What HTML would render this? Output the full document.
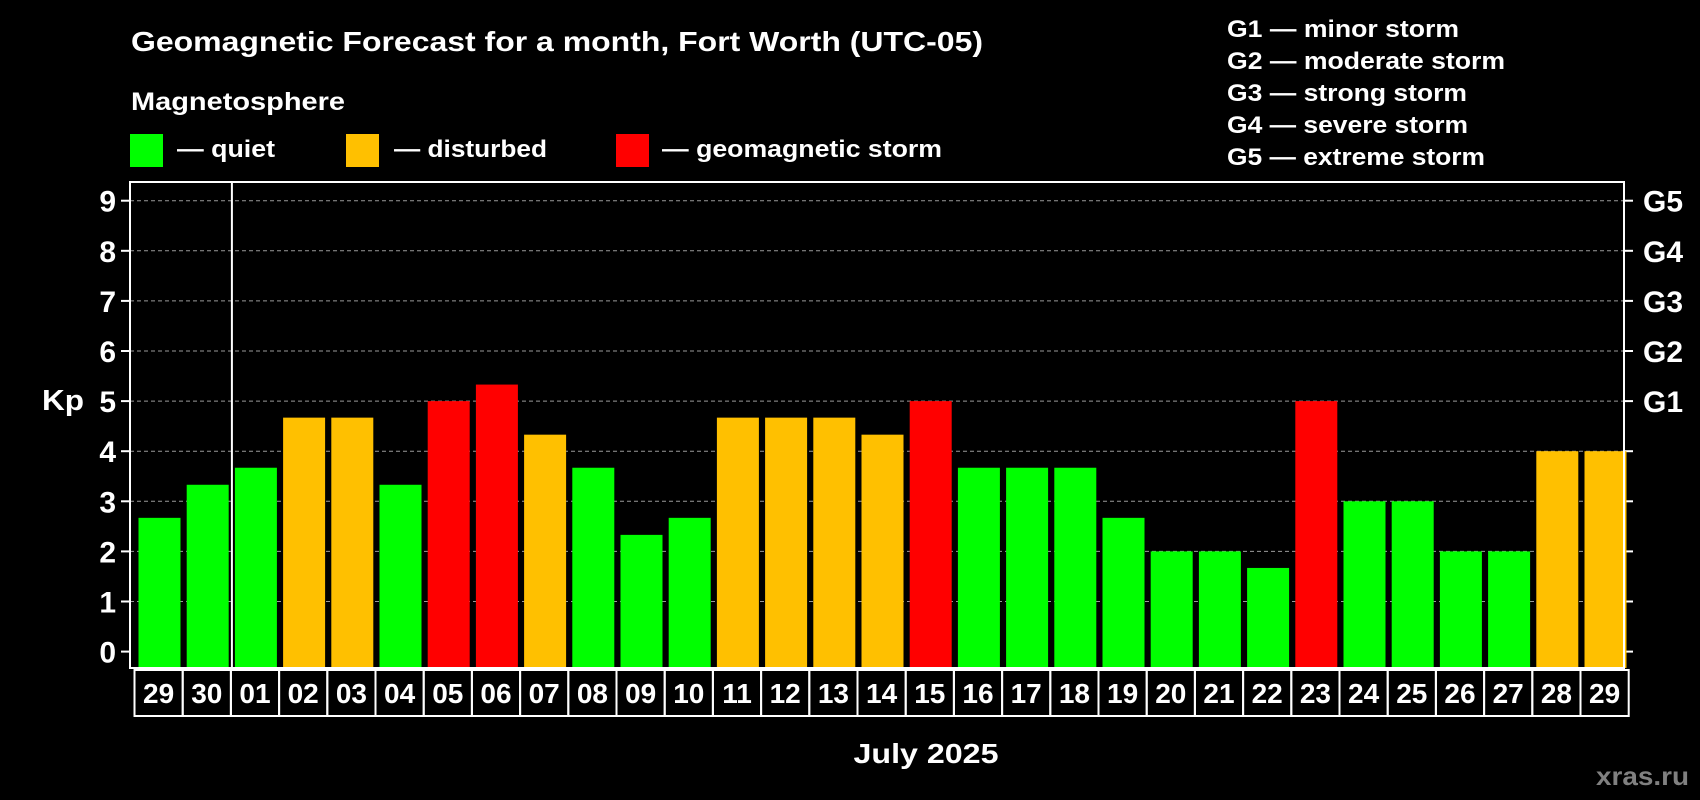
<!DOCTYPE html>
<html><head><meta charset="utf-8"><style>
html,body{margin:0;padding:0;background:#000;}
svg{display:block;font-family:"Liberation Sans",Arial,sans-serif;font-weight:bold;}
</style></head><body>
<svg id="chart" width="1700" height="800" viewBox="0 0 1700 800" xmlns="http://www.w3.org/2000/svg">
<rect x="0" y="0" width="1700" height="800" fill="#000"/>
<text x="131" y="51" font-size="28" fill="#fff" textLength="852" lengthAdjust="spacingAndGlyphs">Geomagnetic Forecast for a month, Fort Worth (UTC-05)</text>
<text x="131" y="110" font-size="25" fill="#fff" textLength="214" lengthAdjust="spacingAndGlyphs">Magnetosphere</text>
<g><rect x="130" y="134" width="33" height="33" fill="#00ff00"/><text x="177" y="157" font-size="24" fill="#fff" textLength="98" lengthAdjust="spacingAndGlyphs">— quiet</text></g>
<g><rect x="346" y="134" width="33" height="33" fill="#ffc000"/><text x="394" y="157" font-size="24" fill="#fff" textLength="153" lengthAdjust="spacingAndGlyphs">— disturbed</text></g>
<g><rect x="616" y="134" width="33" height="33" fill="#ff0000"/><text x="662" y="157" font-size="24" fill="#fff" textLength="280" lengthAdjust="spacingAndGlyphs">— geomagnetic storm</text></g>
<g font-size="24" fill="#fff">
<text x="1227" y="37" textLength="232" lengthAdjust="spacingAndGlyphs">G1 — minor storm</text>
<text x="1227" y="69" textLength="278" lengthAdjust="spacingAndGlyphs">G2 — moderate storm</text>
<text x="1227" y="101" textLength="240" lengthAdjust="spacingAndGlyphs">G3 — strong storm</text>
<text x="1227" y="133" textLength="241" lengthAdjust="spacingAndGlyphs">G4 — severe storm</text>
<text x="1227" y="165" textLength="258" lengthAdjust="spacingAndGlyphs">G5 — extreme storm</text>
</g>
<text x="42" y="410" font-size="29" fill="#fff" textLength="42" lengthAdjust="spacingAndGlyphs">Kp</text>
<text x="926" y="763" font-size="28" fill="#fff" text-anchor="middle" textLength="145" lengthAdjust="spacingAndGlyphs">July 2025</text>
<text x="1689" y="785" font-size="26" fill="#808080" text-anchor="end" textLength="93" lengthAdjust="spacingAndGlyphs">xras.ru</text>
<g id="plot"></g>
</svg>
<script>
const days = ["29","30","01","02","03","04","05","06","07","08","09","10","11","12","13","14","15","16","17","18","19","20","21","22","23","24","25","26","27","28","29"];
const kpValues = [2.67,3.33,3.67,4.67,4.67,3.33,5,5.33,4.33,3.67,2.33,2.67,4.67,4.67,4.67,4.33,5,3.67,3.67,3.67,2.67,2,2,1.67,5,3,3,2,2,4,4];
const levels = ["quiet","quiet","quiet","disturbed","disturbed","quiet","storm","storm","disturbed","quiet","quiet","quiet","disturbed","disturbed","disturbed","disturbed","storm","quiet","quiet","quiet","quiet","quiet","quiet","quiet","storm","quiet","quiet","quiet","quiet","disturbed","disturbed"];
const yTicks = [0,1,2,3,4,5,6,7,8,9];
const gLabels = ["G1","G2","G3","G4","G5"];
const gLevels = [5,6,7,8,9];
const monthStartIndex = 2;

const NS = "http://www.w3.org/2000/svg";
const plot = document.getElementById('plot');
const colors = {quiet:"#00ff00", disturbed:"#ffc000", storm:"#ff0000"};
const L = 130, R = 1624, T = 182, B = 668;
const slotX0 = 134.5, slotW = 48.2;
function y(v){ return 651.6 - v * 50.1; }
function x(i){ return slotX0 + i * slotW; }
function mk(tag, attrs){ const e = document.createElementNS(NS, tag); for (const k in attrs) e.setAttribute(k, attrs[k]); plot.appendChild(e); return e; }

yTicks.forEach(v => {
  if (v > 0) {
    const g = mk('line', {x1:L, x2:R, y1:y(v), y2:y(v), stroke:"#9a9a9a", "stroke-width":1, "stroke-dasharray":"4,3"});
    
    
  }
  const t1 = mk('line', {x1:L-9, x2:L, y1:y(v), y2:y(v), stroke:"#fff", "stroke-width":2});
  
  
  const t2 = mk('line', {x1:R, x2:R+9, y1:y(v), y2:y(v), stroke:"#fff", "stroke-width":2});
  
  
  const lb = mk('text', {x:116, y:y(v)+11, "font-size":30, fill:"#fff", "text-anchor":"end"});
  lb.textContent = v;
  
  
});
gLabels.forEach((g, i) => {
  const t = mk('text', {x:1643, y:y(gLevels[i])+11, "font-size":30, fill:"#fff"});
  t.textContent = g;
  
  
});
kpValues.forEach((v, i) => {
  const b = mk('rect', {x:x(i)+4, y:y(v), width:42, height:B - y(v), fill:colors[levels[i]]});
  
  
});
const frame = mk('rect', {x:L, y:T, width:R-L, height:B-T, fill:"none", stroke:"#fff", "stroke-width":2});


const sep = mk('line', {x1:x(monthStartIndex)+1, x2:x(monthStartIndex)+1, y1:T, y2:B, stroke:"#fff", "stroke-width":2});


days.forEach((d, i) => {
  const c = mk('rect', {x:x(i), y:670, width:slotW, height:46, fill:"none", stroke:"#fff", "stroke-width":2});
  
  
  const t = mk('text', {x:x(i)+slotW/2, y:703, "font-size":28, fill:"#fff", "text-anchor":"middle"});
  t.textContent = d;
  
  
});
</script>
</body></html>
